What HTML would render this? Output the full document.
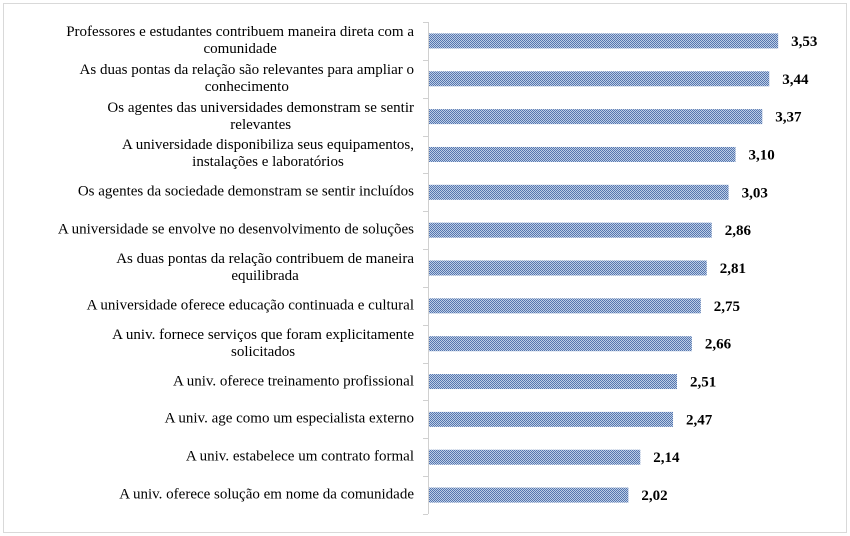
<!DOCTYPE html>
<html><head><meta charset="utf-8">
<style>
body{margin:0;background:#fff;}
#wrap{position:relative;width:850px;height:536px;overflow:hidden;font-family:"Liberation Serif",serif;}
.lbl{position:absolute;right:436px;text-align:center;font-size:15px;line-height:17px;color:#000;white-space:nowrap;transform:translateY(-50%);}
</style></head>
<body>
<div id="wrap">
<svg id="svg" width="850" height="536" style="position:absolute;left:0;top:0">
<defs>
<pattern id="chk" width="2" height="2" patternUnits="userSpaceOnUse">
<rect width="2" height="2" fill="#bccde6"/>
<rect width="1" height="1" fill="#5676ae"/>
<rect x="1" y="1" width="1" height="1" fill="#5676ae"/>
</pattern>
</defs>
<rect x="3.5" y="3.5" width="843" height="529" fill="none" stroke="#d9d9d9"/>
</svg>
</div>
<script>
const categories=[
"Professores e estudantes contribuem maneira direta com a<br>comunidade",
"As duas pontas da relação são relevantes para ampliar o<br>conhecimento",
"Os agentes das universidades demonstram se sentir<br>relevantes",
"A universidade disponibiliza seus equipamentos,<br>instalações e laboratórios",
"Os agentes da sociedade demonstram se sentir incluídos",
"A universidade se envolve no desenvolvimento de soluções",
"As duas pontas da relação contribuem de maneira<br>equilibrada",
"A universidade oferece educação continuada e cultural",
"A univ. fornece serviços que foram explicitamente<br>solicitados",
"A univ. oferece treinamento profissional",
"A univ. age como um especialista externo",
"A univ. estabelece um contrato formal",
"A univ. oferece solução em nome da comunidade"];
const values=[3.53,3.44,3.37,3.10,3.03,2.86,2.81,2.75,2.66,2.51,2.47,2.14,2.02];
const valueLabels=["3,53","3,44","3,37","3,10","3,03","2,86","2,81","2,75","2,66","2,51","2,47","2,14","2,02"];

const NS="http://www.w3.org/2000/svg";
const svg=document.getElementById('svg');
const wrap=document.getElementById('wrap');
const x0=428, pxPer=99.2, top0=22, bottom0=514;
const band=(bottom0-top0)/categories.length;
const xs=v=>x0+v*pxPer;
const yc=i=>top0+band*(i+0.5);
function mk(t,a){const e=document.createElementNS(NS,t);for(const k in a)e.setAttribute(k,a[k]);svg.appendChild(e);return e;}
const ax=mk('line',{x1:x0+0.5,x2:x0+0.5,y1:top0,y2:bottom0,stroke:'#d0d0d0'});


for(let i=0;i<=categories.length;i++){
  const y=Math.round(top0+band*i)+0.5;
  const t=mk('line',{x1:x0-5,x2:x0,y1:y,y2:y,stroke:'#d0d0d0'});
  
  
}
categories.forEach((c,i)=>{
  const h=15, y=yc(i);
  const r=mk('rect',{x:x0+1,y:y-h/2,width:xs(values[i])-x0-1,height:h,fill:'url(#chk)'});
  
  
  const t=mk('text',{x:xs(values[i])+13,y:y+5,'font-size':15,'font-weight':'bold','font-family':'Liberation Serif, serif'});
  t.textContent=valueLabels[i];
  
  
  const d=document.createElement('div');
  d.className='lbl';d.style.top=y+'px';d.innerHTML=c;
  
  
  wrap.appendChild(d);
});
</script>
</body></html>
